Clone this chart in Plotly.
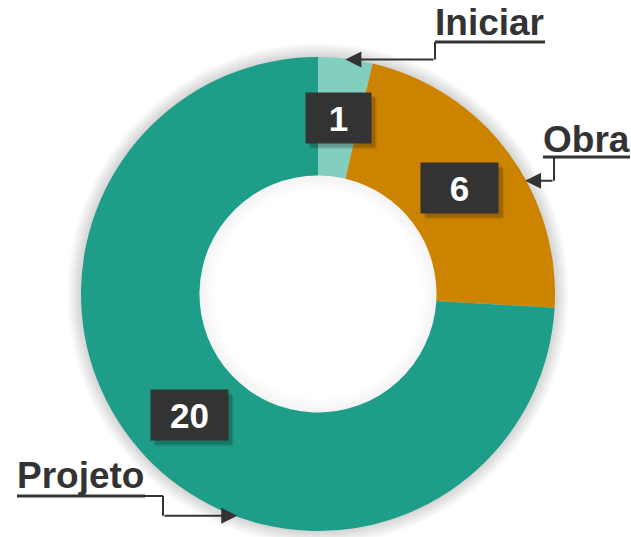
import math
import plotly.graph_objects as go

# Data
categories = ["Iniciar", "Obra", "Projeto"]
values = [1, 6, 20]
value_labels = ["1", "6", "20"]

# Styling
colors = ["#82CFC0", "#CC8400", "#1E9E89"]
box_widths = [65, 77, 77]
BOX_H = 50
TEXT_COLOR = "#333333"
FONT = "Arial, Liberation Sans, sans-serif"

W, H = 631, 537
CX, CY, R = 318, 294, 237
HOLE = 0.5

# Callout layout for each category label: text anchor, underline, elbow x, point in slice
callouts = {
    "Iniciar": dict(tx=433, ty=22, ux=(435, 545), uy=42, ex=435, frac=0.5),
    "Obra": dict(tx=541, ty=139, ux=(543, 630), uy=157, ex=554, frac=0.6),
    "Projeto": dict(tx=15, ty=475, ux=(17, 145), uy=496, ex=163, frac=0.4),
}

total = sum(values)
starts = [sum(values[:i]) for i in range(len(values))]


def slice_point(i, frac, r):
    """Point inside slice i (clockwise from 12 o'clock) at radius r, pixel coords."""
    a = 2 * math.pi * (starts[i] + frac * values[i]) / total
    return CX + r * math.sin(a), CY - r * math.cos(a)


def circle(r, **kw):
    return dict(type="circle", xref="x", yref="y",
                x0=CX - r, x1=CX + r, y0=CY - r, y1=CY + r, **kw)


fig = go.Figure()

fig.add_trace(go.Pie(
    labels=categories,
    values=values,
    sort=False,
    direction="clockwise",
    rotation=0,
    hole=HOLE,
    marker=dict(colors=colors, line=dict(width=0)),
    textinfo="none",
    hoverinfo="label+value",
    showlegend=False,
    domain=dict(x=[(CX - R) / W, (CX + R) / W],
                y=[1 - (CY + R) / H, 1 - (CY - R) / H]),
))

shapes = []
# soft drop shadow around the ring
for k in range(14, 0, -1):
    shapes.append(circle(R + k, layer="below",
                         fillcolor="rgba(0,0,0,0.012)", line=dict(width=0)))
rh = R * HOLE
shapes.append(circle(rh + 2, layer="below", fillcolor="white", line=dict(width=0)))
# inner shading of the hole
for k in range(0, 10):
    r = rh - 1 - k * 1.5
    shapes.append(circle(r, layer="above",
                         line=dict(color="rgba(0,0,0,%.3f)" % (0.05 * (1 - k / 10)), width=1.5)))

annotations = []
for i, cat in enumerate(categories):
    c = callouts[cat]
    # category label
    annotations.append(dict(x=c["tx"], y=c["ty"], xref="x", yref="y",
                            xanchor="left", yanchor="middle", showarrow=False,
                            text="<b>%s</b>" % cat,
                            font=dict(family=FONT, size=37, color=TEXT_COLOR)))
    # underline
    shapes.append(dict(type="line", xref="x", yref="y",
                       x0=c["ux"][0], x1=c["ux"][1], y0=c["uy"], y1=c["uy"],
                       line=dict(color=TEXT_COLOR, width=3)))
    tipx, tipy = slice_point(i, c["frac"], R - 1)
    # connector: horizontal run from underline end, then vertical drop
    if c["ex"] > c["ux"][1]:
        shapes.append(dict(type="line", xref="x", yref="y",
                           x0=c["ux"][1], x1=c["ex"], y0=c["uy"], y1=c["uy"],
                           line=dict(color=TEXT_COLOR, width=2)))
    shapes.append(dict(type="line", xref="x", yref="y",
                       x0=c["ex"], x1=c["ex"], y0=c["uy"], y1=tipy,
                       line=dict(color=TEXT_COLOR, width=2)))
    annotations.append(dict(x=tipx, y=tipy, xref="x", yref="y",
                            ax=c["ex"], ay=tipy, axref="x", ayref="y",
                            text="", showarrow=True, arrowhead=2, arrowsize=1.6,
                            arrowwidth=2, arrowcolor=TEXT_COLOR, standoff=0))

    # value box with a soft offset shadow
    bx, by = slice_point(i, 0.5, 177)
    w = box_widths[i]
    for d, a in ((6, 0.06), (5, 0.08), (4, 0.12)):
        shapes.append(dict(type="rect", xref="x", yref="y", layer="above",
                           x0=bx - w / 2 + d - 1, x1=bx + w / 2 + d,
                           y0=by - BOX_H / 2 + d - 1, y1=by + BOX_H / 2 + d,
                           fillcolor="rgba(0,0,0,%.2f)" % a, line=dict(width=0)))
    annotations.append(dict(x=bx, y=by, xref="x", yref="y",
                            showarrow=False, text="<b>%s</b>" % value_labels[i],
                            width=w, height=BOX_H, borderpad=0,
                            bgcolor="#333333",
                            font=dict(family=FONT, size=35, color="white")))

fig.update_layout(
    width=W, height=H,
    margin=dict(l=0, r=0, t=0, b=0),
    paper_bgcolor="white", plot_bgcolor="rgba(0,0,0,0)",
    xaxis=dict(range=[0, W], visible=False, fixedrange=True),
    yaxis=dict(range=[H, 0], visible=False, fixedrange=True),
    shapes=shapes,
    annotations=annotations,
)

fig.write_html("out.html")
